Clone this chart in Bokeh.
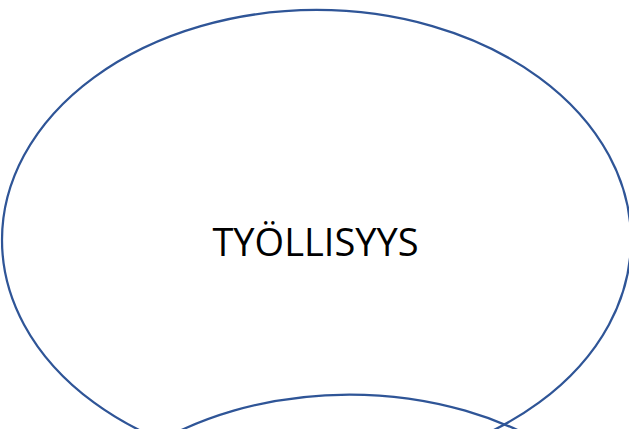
from bokeh.plotting import figure
from bokeh.models import ColumnDataSource, Range1d
from bokeh.core.properties import value
from bokeh.embed import file_html
from bokeh.resources import INLINE

# Diagram content
labels = ["TYÖLLISYYS"]
shape_names = ["Työllisyys", "Seuraava"]

# Pixel coordinate system of the diagram
x_lo, x_hi = 0, 629
y_lo, y_hi = 0, 429

shape_x = [316.0, 349.0]
shape_y = [239.5, 624.0]
shape_w = [629.0, 629.0]
shape_h = [460.0, 460.0]

p = figure(width=629, height=429, output_backend="svg", toolbar_location=None,
           x_range=Range1d(x_lo, x_hi), y_range=Range1d(y_hi, y_lo),
           min_border=0, outline_line_color=None, background_fill_color="white",
           border_fill_color="white")
p.axis.visible = False
p.grid.visible = False

src = ColumnDataSource(dict(x=shape_x, y=shape_y, w=shape_w, h=shape_h, name=shape_names))
p.ellipse(x="x", y="y", width="w", height="h", source=src,
          fill_color=None, line_color="#2F5597", line_width=2.25)

tsrc = ColumnDataSource(dict(x=[315.0], y=[240.0], t=labels))
p.text(x="x", y="y", text="t", source=tsrc, text_align="center",
       text_baseline="middle", text_font=value("Open Sans"),
       text_font_size="38px", text_color="black")

open("out.html", "w").write(file_html(p, INLINE))
